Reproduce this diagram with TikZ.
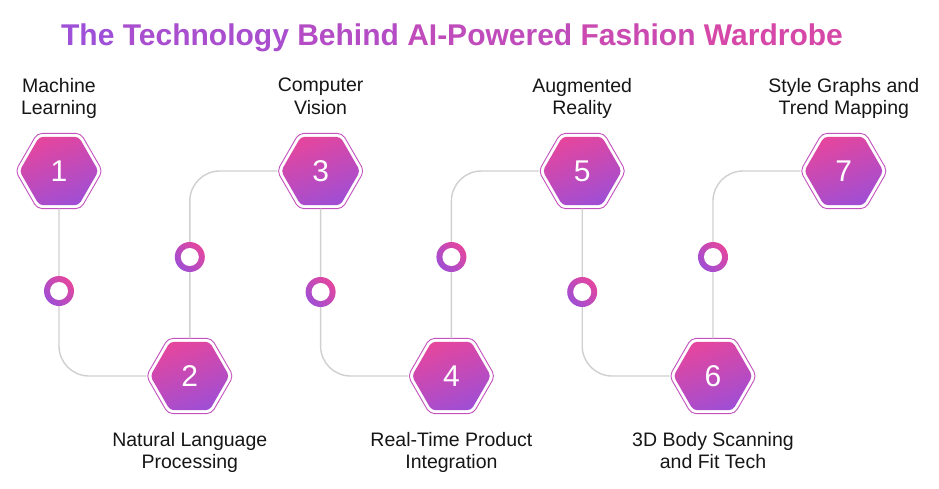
\documentclass[tikz,border=0pt]{standalone}
\usepackage{fontspec}
\setmainfont{Liberation Sans}
\usetikzlibrary{shapes.geometric}
\definecolor{hpink}{RGB}{228,70,158}
\definecolor{hpurple}{RGB}{160,78,212}
\definecolor{hline}{RGB}{196,82,190}
\definecolor{conn}{RGB}{208,208,208}
\definecolor{tA}{RGB}{158,80,216}
\definecolor{tB}{RGB}{214,72,168}
\definecolor{txt}{RGB}{22,22,22}
\begin{document}
\begin{tikzpicture}[x=1pt,y=-1pt,
  hexout/.style={regular polygon, regular polygon sides=6, minimum size=87pt, draw=hline, line width=0.9pt, fill=white, inner sep=0pt, outer sep=0pt, rounded corners=5pt},
  hexin/.style={regular polygon, regular polygon sides=6, minimum size=79pt, top color=hpink, bottom color=hpurple, shading angle=20, inner sep=0pt, outer sep=0pt, rounded corners=4pt, text=white, font=\fontsize{30}{30}\selectfont},
  ringout/.style={circle, minimum size=30pt, inner sep=0pt, outer sep=0pt, top color=hpink, bottom color=hpurple, shading angle=-45},
  ringin/.style={circle, minimum size=18pt, inner sep=0pt, fill=white},
  conline/.style={draw=conn, line width=1.4pt, rounded corners=30pt},
  lab/.style={align=center, inner sep=0pt, text=txt, font=\fontsize{19.5}{22.5}\selectfont},
  ttl/.style={inner sep=0pt, font=\bfseries\fontsize{30}{36}\selectfont}]
\fill[white] (0,0) rectangle (939,488);
\useasboundingbox (0,0) rectangle (939,488);

% title
\node[ttl, anchor=base] (title) at (452,45) {\textcolor{tA}{The} \textcolor{tA!80!tB}{Technology} \textcolor{tA!60!tB}{Behind} \textcolor{tA!40!tB}{AI-Powered} \textcolor{tA!20!tB}{Fashion} \textcolor{tB}{Wardrobe}};

% hexagon outlines
\node[hexout] (h1) at (59,171) {};
\node[hexout] (h2) at (189.8,376) {};
\node[hexout] (h3) at (320.6,171) {};
\node[hexout] (h4) at (451.4,376) {};
\node[hexout] (h5) at (582.2,171) {};
\node[hexout] (h6) at (713,376) {};
\node[hexout] (h7) at (843.8,171) {};

% connectors
\draw[conline] (h1.south) |- (h2.west);
\draw[conline] (h2.north) |- (h3.west);
\draw[conline] (h3.south) |- (h4.west);
\draw[conline] (h4.north) |- (h5.west);
\draw[conline] (h5.south) |- (h6.west);
\draw[conline] (h6.north) |- (h7.west);

% hexagon fills with numbers
\node[hexin] (n1) at (h1) {1};
\node[hexin] (n2) at (h2) {2};
\node[hexin] (n3) at (h3) {3};
\node[hexin] (n4) at (h4) {4};
\node[hexin] (n5) at (h5) {5};
\node[hexin] (n6) at (h6) {6};
\node[hexin] (n7) at (h7) {7};

% rings
\node[ringout] (r1) at (59,291) {};
\node[ringout] (r2) at (189.8,257) {};
\node[ringout] (r3) at (320.6,292) {};
\node[ringout] (r4) at (451.4,257) {};
\node[ringout] (r5) at (582.2,292) {};
\node[ringout] (r6) at (713,257) {};
\node[ringin] (c1) at (r1) {};
\node[ringin] (c2) at (r2) {};
\node[ringin] (c3) at (r3) {};
\node[ringin] (c4) at (r4) {};
\node[ringin] (c5) at (r5) {};
\node[ringin] (c6) at (r6) {};

% labels
\node[lab, anchor=north] (l1) at (59,78) {Machine\\Learning};
\node[lab, anchor=north] (l3) at (320.6,78) {Computer\\Vision};
\node[lab, anchor=north] (l5) at (582.2,78) {Augmented\\Reality};
\node[lab, anchor=north] (l7) at (843.8,78) {Style Graphs and\\Trend Mapping};
\node[lab, anchor=north] (l2) at (189.8,432) {Natural Language\\Processing};
\node[lab, anchor=north] (l4) at (451.4,432) {Real-Time Product\\Integration};
\node[lab, anchor=north] (l6) at (713,432) {3D Body Scanning\\and Fit Tech};
\end{tikzpicture}
\end{document}
